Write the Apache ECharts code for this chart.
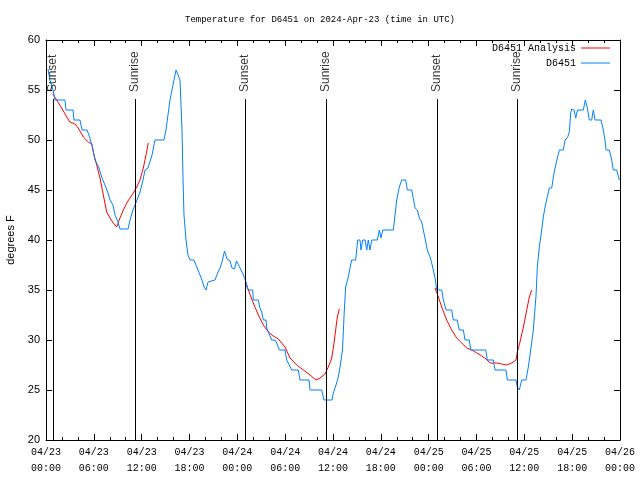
<!DOCTYPE html>
<html><head><meta charset="utf-8">
<script src="https://cdn.jsdelivr.net/npm/echarts/dist/echarts.min.js"></script>
<style>html,body{margin:0;padding:0;background:#fff}#c{width:640px;height:480px}</style>
</head><body><div id="c"></div>
<script>
// hours since 2024-04-23 00:00 UTC
const obsHours = [0.25,0.50,0.88,1.13,2.38,2.51,3.39,3.51,4.26,4.52,
5.14,5.39,5.52,5.77,6.15,6.40,6.65,7.02,7.40,7.78,
8.03,8.40,8.66,9.03,9.28,10.29,10.54,10.91,11.16,11.42,
11.79,12.17,12.42,12.79,13.30,13.67,14.80,15.05,15.30,15.55,
15.93,16.31,16.56,16.81,17.06,17.19,17.31,17.56,17.81,18.06,
18.56,18.82,19.07,19.32,19.57,19.82,20.07,20.32,20.57,21.20,
21.58,21.83,22.08,22.39,22.71,23.08,23.33,23.65,23.90,24.34,
24.71,25.09,25.38,25.93,26.00,26.63,26.84,27.06,27.26,27.60,
27.68,27.89,28.31,28.73,28.94,29.27,29.98,30.19,30.82,31.65,
31.86,32.99,33.12,34.58,34.87,35.88,36.04,36.38,36.67,36.88,
37.19,37.42,37.59,37.92,38.34,38.84,38.97,39.10,39.39,39.51,
39.73,40.02,40.23,40.43,40.64,40.86,41.56,41.81,42.02,42.24,
43.57,43.78,43.99,44.32,44.62,45.12,45.32,45.87,46.16,46.29,
46.58,46.83,47.13,47.33,47.54,47.83,48.17,48.38,48.58,48.80,
49.01,49.64,49.84,50.18,50.89,51.09,51.59,51.84,52.35,52.56,
53.10,53.27,55.16,55.36,56.11,56.32,57.70,57.87,58.96,59.12,
59.37,59.67,60.21,60.50,60.80,61.13,61.47,61.63,61.88,62.18,
62.38,62.60,62.88,63.14,63.44,63.64,63.85,64.14,64.39,64.89,
65.11,65.44,65.64,65.82,65.94,66.23,66.45,66.57,66.70,67.40,
67.65,67.90,68.15,68.45,68.65,68.87,69.62,69.91,70.12,70.25,
70.66,70.96,71.16,71.59,71.92];
const obsTemp = [57.1,56,55,54,54,53,53,52,52,51,
51,50.5,50.1,49.5,48,48,47.2,46.2,45.5,44.7,
44,43.5,42.5,41.8,41.1,41.1,42,43,43.2,44,
44.8,46,47,47.2,48.5,50,50,51,52.5,54,
55.5,57,57,56,51,46,42.5,40,38.5,38,
38,37.5,37,36.5,36,35.3,35,35.8,36,36,
36.8,37.2,37.8,38.9,38.1,37.9,37.2,37.1,37.9,37.2,
36.6,35.8,35,35,34,34,33.2,32.8,32,32,
31.2,30.8,30,30,29.7,29,29,28,27,27,
26,26,25,25,24,24,24.7,25.5,26.3,27.3,
29,33,35.3,36.3,38,38,39,40,40,39,
40,40,39,40,39,40,40,41,40.2,41,
41,42.5,44,45.3,46,46,45,45,43.8,43.2,
43,42.2,41.8,41,40.2,39,38.3,37.7,37,36.2,
35,35,34,33,33,32,32,31,31,30,
30,29,29,28,28,27,27,26,26,25.3,
25,26,26,27.3,29,31,34.5,37.3,39.3,41,
42.3,43.3,44.3,45.2,45.2,46.3,47.2,48.2,49,49,
50,50.3,50.8,52.7,53.1,53,52.2,52.7,53,53,
54,53.2,52,52,53,52,52,51,50,49,
49,48,47,47,46];

const ana1Hours = [0.84,1.34,1.97,2.60,3.01,3.64,4.05,4.68,5.31,5.73,6.02,6.36,6.77,7.19,7.61,8.03,8.44,8.87,9.28,9.70,10.20,10.95,11.38,11.79,12.21,12.54,12.83];
const ana1Temp  = [54.6,54,53.2,52.3,51.8,51.6,51.2,50.3,49.8,49.6,48.5,47.5,46.2,44.5,42.8,42.2,41.7,41.3,42.2,43,43.8,44.7,45.3,46,47.2,48.5,49.7];
const ana2Hours = [24.96,25.38,26.00,26.63,27.26,27.89,28.51,29.14,29.98,30.61,31.45,32.28,33.12,33.87,34.37,35.00,35.41,35.84,36.13,36.38,36.54,36.79];
const ana2Temp  = [35.7,35,33.7,32.5,31.5,30.8,30.4,30.1,29.3,28.2,27.5,27,26.5,26,26.2,26.6,27.3,28.2,29.7,31.3,32.3,33.1];
const ana3Hours = [48.80,49.21,49.64,50.26,50.89,51.52,52.15,52.77,53.40,54.03,54.66,55.19,55.70,56.54,57.16,57.79,58.42,58.96,59.12,59.46,59.88,60.30,60.63,60.93];
const ana3Temp  = [35.2,34.3,33.3,32,31,30.2,29.7,29.2,29,28.7,28.4,28.1,27.7,27.7,27.6,27.5,27.7,28,28.8,29.8,31.3,33,34.3,35];

const eventHours = [0.88,11.16,24.96,35.12,49.05,59.08];
const eventNames = ['Sunset','Sunrise','Sunset','Sunrise','Sunset','Sunrise'];

const xTickLabels = ['04/23\n00:00','04/23\n06:00','04/23\n12:00','04/23\n18:00','04/24\n00:00','04/24\n06:00','04/24\n12:00','04/24\n18:00','04/25\n00:00','04/25\n06:00','04/25\n12:00','04/25\n18:00','04/26\n00:00'];

const MONO = '"Liberation Mono","DejaVu Sans Mono",monospace';
const SANS = '"Liberation Sans","DejaVu Sans",sans-serif';
const zip = (a,b)=>a.map((v,i)=>[v,b[i]]);

const chart = echarts.init(document.getElementById('c'), null, {renderer:'canvas'});
const axisCommon = {
  axisLine:{show:true, onZero:false, lineStyle:{color:'#000', width:1}},
  axisTick:{show:true, inside:true, length:6, lineStyle:{color:'#000', width:1}},
  splitLine:{show:false}
};
const legendCommon = {orient:'vertical', align:'right', icon:'rect', itemWidth:29, itemHeight:1, padding:0,
  selectedMode:false, textStyle:{fontFamily:MONO, fontSize:10, color:'#000'}};
const redStyle = {type:'line', name:'D6451 Analysis', symbol:'none', lineStyle:{color:'#ff0000', width:1}, itemStyle:{color:'#ff0000'}, z:2, animation:false};
chart.setOption({
  animation:false,
  title:{text:'Temperature for D6451 on 2024-Apr-23 (time in UTC)', left:'center', top:10,
    textStyle:{fontFamily:MONO, fontSize:9, fontWeight:'normal', color:'#000'}},
  grid:{left:46, right:20, top:40, bottom:40, containLabel:false, outerBoundsMode:'none'},
  legend:[
    Object.assign({data:['D6451 Analysis'], right:30, top:43}, legendCommon),
    Object.assign({data:['D6451'], right:30, top:58}, legendCommon)
  ],
  xAxis:[
    Object.assign({type:'value', min:0, max:72, interval:6, position:'bottom',
      minorTick:{show:true, splitNumber:3, length:3, lineStyle:{color:'#000'}},
      axisLabel:{fontFamily:MONO, fontSize:10, color:'#000', lineHeight:16, margin:4,
        formatter:(v)=>xTickLabels[Math.round(v/6)]}}, axisCommon),
    Object.assign({type:'value', min:0, max:72, interval:6, position:'top',
      minorTick:{show:true, splitNumber:3, length:3, lineStyle:{color:'#000'}},
      axisLabel:{show:false}}, axisCommon)
  ],
  yAxis:[
    Object.assign({type:'value', min:20, max:60, interval:5, position:'left',
      name:'degrees F', nameLocation:'middle', nameGap:29, nameRotate:90,
      nameTextStyle:{fontFamily:SANS, fontSize:11, color:'#000'},
      axisLabel:{fontFamily:SANS, fontSize:11, color:'#000', margin:6}}, axisCommon),
    Object.assign({type:'value', min:20, max:60, interval:5, position:'right',
      axisLabel:{show:false}}, axisCommon)
  ],
  series:[
    Object.assign({data:zip(ana1Hours, ana1Temp)}, redStyle),
    Object.assign({data:zip(ana2Hours, ana2Temp)}, redStyle),
    Object.assign({data:zip(ana3Hours, ana3Temp)}, redStyle),
    {type:'line', name:'D6451', data:zip(obsHours, obsTemp), symbol:'none',
      lineStyle:{color:'#0080ff', width:1}, itemStyle:{color:'#0080ff'}, z:3},
    {type:'scatter', name:'events', data:eventHours.map((h,i)=>({value:[h,54.8], name:eventNames[i]})),
      symbolSize:0, silent:true, z:4,
      label:{show:true, position:'inside', rotate:90, align:'left', verticalAlign:'middle',
        fontFamily:SANS, fontSize:12, color:'#000', formatter:(p)=>p.name},
      markLine:{symbol:'none', silent:true, animation:false, label:{show:false},
        lineStyle:{color:'#000', type:'solid', width:1},
        data:eventHours.map(h=>[{coord:[h,20]},{coord:[h,54.1]}])}
    }
  ]
});
</script></body></html>
